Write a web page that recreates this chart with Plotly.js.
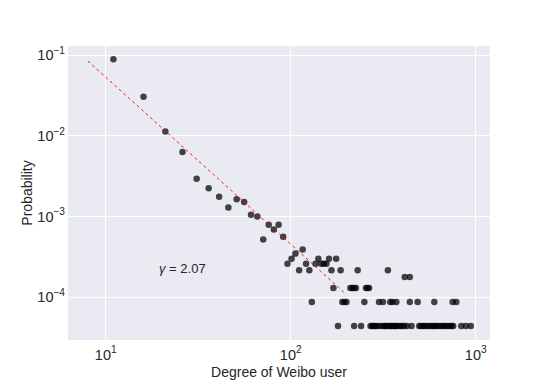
<!DOCTYPE html>
<html>
<head>
<meta charset="utf-8">
<script src="https://cdn.plot.ly/plotly-3.0.1.min.js"></script>
<style>
  html, body { margin: 0; padding: 0; background: #fff; }
  #plot { width: 545px; height: 382px; }
</style>
</head>
<body>
<div id="plot"></div>
<script>
// degree / probability
const headDegree = [11, 16, 21, 26, 31, 36, 41, 46, 51, 56, 61, 66, 71, 76, 81, 86, 91];
const headProb = [0.089, 0.0304, 0.0113, 0.0063, 0.00294, 0.00224, 0.00176, 0.00129, 0.00164,
  0.00151, 0.00105, 0.00100, 0.00052, 0.00079, 0.00069, 0.00079, 0.00056];

const midDegree = [96, 101, 106, 111, 116, 121, 126, 136, 141, 146, 151, 156, 161, 166, 176, 186, 230, 335];
const midProb = [0.000259, 0.00030, 0.000347, 0.000216, 0.000389, 0.000259, 0.000216, 0.000259, 0.00030,
  0.000259, 0.000259, 0.000259, 0.00030, 0.000216, 0.00030, 0.000216, 0.000216, 0.000216];

const prob3Degree = [170, 210, 215, 220, 225, 255, 260, 265];
const prob4Degree = [413, 440];
const prob2Degree = [130, 190, 195, 200, 250, 300, 315, 345, 355, 372, 440, 485, 597, 750, 785];
const prob1Degree = [180, 220, 240, 270, 275, 280, 285, 290, 300, 310, 320, 325, 330, 340, 345, 350,
  360, 365, 370, 380, 390, 400, 410, 425, 450, 495, 505, 520, 530, 545, 560, 575, 590, 600, 615,
  630, 650, 665, 680, 700, 720, 740, 755, 835, 885, 940];

const p1 = 0.0000440, p2 = 0.0000874, p3 = 0.000130, p4 = 0.000178;

// fitted power law, end points
const fitX = [8, 199];
const fitY = [0.0843, 0.000109];

const xTickVals = [10, 100, 1000];
const xTickText = ['10<sup>1</sup>', '10<sup>2</sup>', '10<sup>3</sup>'];
const yTickVals = [0.1, 0.01, 0.001, 0.0001];
const yTickText = ['10<sup>\u22121</sup>', '10<sup>\u22122</sup>', '10<sup>\u22123</sup>', '10<sup>\u22124</sup>'];

let xs = headDegree.concat(midDegree);
let ys = headProb.concat(midProb);
prob3Degree.forEach(d => { xs.push(d); ys.push(p3); });
prob4Degree.forEach(d => { xs.push(d); ys.push(p4); });
prob2Degree.forEach(d => { xs.push(d); ys.push(p2); });
prob1Degree.forEach(d => { xs.push(d); ys.push(p1); });

const points = {
    x: xs,
    y: ys,
    type: 'scatter',
    mode: 'markers',
    marker: { size: 6.5, color: 'rgba(0,0,0,0.72)' },
    hoverinfo: 'x+y'
};

const fit = {
    x: fitX,
    y: fitY,
    type: 'scatter',
    mode: 'lines',
    line: { color: 'red', width: 0.9, dash: 'dot' }
};

const font = 'Liberation Sans, Arial, sans-serif';

const layout = {
    width: 545,
    height: 382,
    margin: { l: 68, r: 55, t: 46, b: 42 },
    paper_bgcolor: '#ffffff',
    plot_bgcolor: '#EAEAF2',
    showlegend: false,
    font: { family: font, size: 13, color: '#262626' },
    xaxis: {
        type: 'log',
        range: [0.796, 3.077],
        tickvals: xTickVals,
        ticktext: xTickText,
        ticks: '',
        ticklabelstandoff: 4,
        showgrid: true,
        gridcolor: '#ffffff',
        gridwidth: 1,
        zeroline: false,
        showline: false,
        tickfont: { size: 14.5 },
        title: { text: 'Degree of Weibo user', font: { size: 14 }, standoff: 5 }
    },
    yaxis: {
        type: 'log',
        range: [-4.53, -0.888],
        tickvals: yTickVals,
        ticktext: yTickText,
        ticks: '',
        ticklabelstandoff: 2,
        showgrid: true,
        gridcolor: '#ffffff',
        gridwidth: 1,
        zeroline: false,
        showline: false,
        tickfont: { size: 14.5 },
        title: { text: 'Probability', font: { size: 14 }, standoff: 1 }
    },
    annotations: [{
        xref: 'paper', yref: 'paper',
        x: 0.2725, y: 0.2415,
        xanchor: 'center', yanchor: 'middle',
        text: '<i>\u03b3</i> = 2.07',
        showarrow: false,
        font: { size: 13, color: '#262626' }
    }]
};

Plotly.newPlot('plot', [points, fit], layout, { staticPlot: true });
</script>
</body>
</html>
